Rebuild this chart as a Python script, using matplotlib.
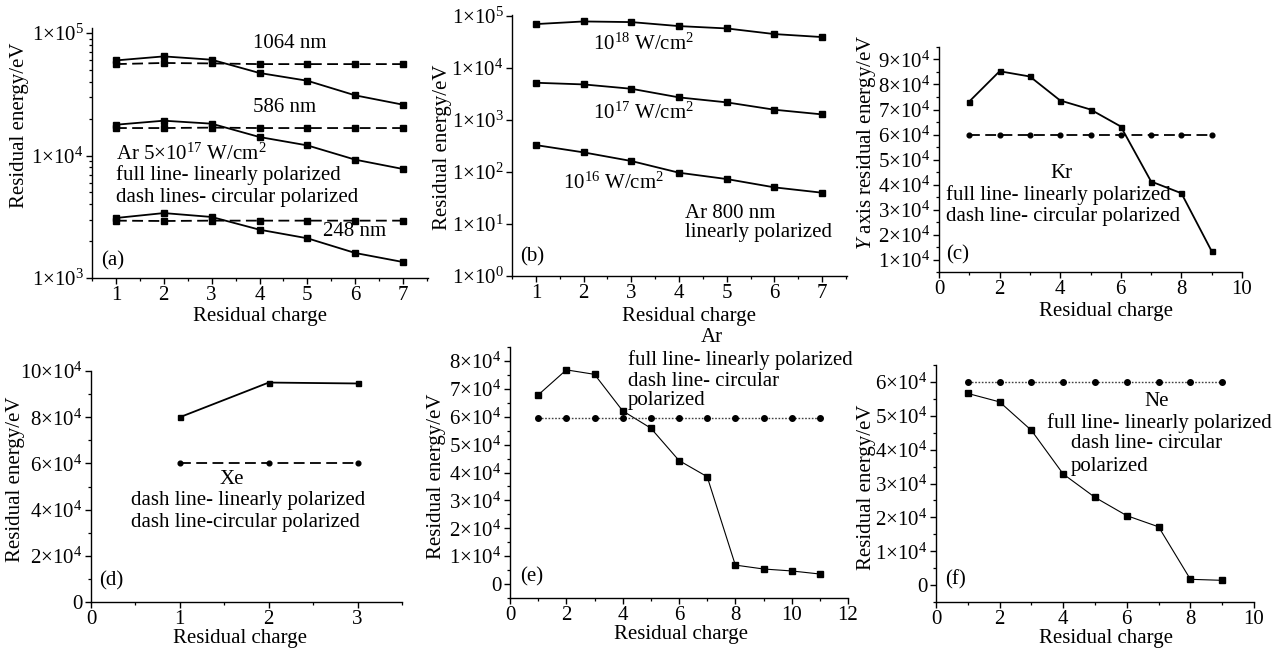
import matplotlib
matplotlib.use("Agg")
import matplotlib.pyplot as plt
from matplotlib.ticker import FixedLocator, FixedFormatter, LogLocator, NullFormatter, MultipleLocator

plt.rcParams['font.family'] = ['Liberation Serif', 'DejaVu Serif']
plt.rcParams['mathtext.fontset'] = 'custom'
plt.rcParams['mathtext.rm'] = 'Liberation Serif'
plt.rcParams['mathtext.it'] = 'Liberation Serif:italic'

# ---------------- data ----------------
# (a) Ar 5e17 W/cm2, three wavelengths
a_charge = [1, 2, 3, 4, 5, 6, 7]
a_1064_lin = [59800, 64500, 60600, 47200, 40800, 31000, 26000]
a_1064_circ = [55800, 57000, 56500, 55800, 55800, 55800, 55800]
a_586_lin = [17850, 19250, 18200, 14160, 12100, 9250, 7760]
a_586_circ = [16770, 16770, 16900, 16770, 16770, 16770, 16770]
a_248_lin = [3090, 3390, 3150, 2480, 2110, 1600, 1350]
a_248_circ = [2940, 2920, 2940, 2940, 2940, 2940, 2940]
a_yticks = [1e3, 1e4, 1e5]
a_ylabels = ['1×10$^{3}$', '1×10$^{4}$', '1×10$^{5}$']

# (b) Ar 800 nm, three intensities
b_charge = [1, 2, 3, 4, 5, 6, 7]
b_1e18 = [70200, 78900, 76700, 64200, 57900, 45100, 39500]
b_1e17 = [5220, 4850, 4000, 2730, 2190, 1580, 1285]
b_1e16 = [330, 239, 163, 97, 73.3, 50.7, 40.0]
b_yticks = [1e0, 1e1, 1e2, 1e3, 1e4, 1e5]
b_ylabels = ['1×10$^{0}$', '1×10$^{1}$', '1×10$^{2}$', '1×10$^{3}$', '1×10$^{4}$', '1×10$^{5}$']

# (c) Kr
c_charge = [1, 2, 3, 4, 5, 6, 7, 8, 9]
c_lin = [73200, 85300, 83200, 73600, 70000, 63200, 41200, 36500, 13300]
c_circ = [59800, 59800, 59800, 59800, 59800, 59800, 59800, 59800, 59800]
c_yticks = [1e4, 2e4, 3e4, 4e4, 5e4, 6e4, 7e4, 8e4, 9e4]
c_ylabels = ['%d×10$^{4}$' % k for k in range(1, 10)]

# (d) Xe
d_charge = [1, 2, 3]
d_lin = [80000, 95000, 94600]
d_circ = [60000, 60000, 60000]
d_yticks = [0, 2e4, 4e4, 6e4, 8e4, 10e4]
d_ylabels = ['0', '2×10$^{4}$', '4×10$^{4}$', '6×10$^{4}$', '8×10$^{4}$', '10×10$^{4}$']

# (e) Ar
e_charge = [1, 2, 3, 4, 5, 6, 7, 8, 9, 10, 11]
e_lin = [67800, 76800, 75200, 62100, 55900, 44300, 38500, 6800, 5400, 4700, 3600]
e_circ = [59700] * 11
e_yticks = [0, 1e4, 2e4, 3e4, 4e4, 5e4, 6e4, 7e4, 8e4]
e_ylabels = ['0'] + ['%d×10$^{4}$' % k for k in range(1, 9)]

# (f) Ne
f_charge = [1, 2, 3, 4, 5, 6, 7, 8, 9]
f_lin = [56600, 54100, 45700, 32800, 25900, 20500, 17200, 1700, 1400]
f_circ = [60000] * 9
f_yticks = [0, 1e4, 2e4, 3e4, 4e4, 5e4, 6e4]
f_ylabels = ['0'] + ['%d×10$^{4}$' % k for k in range(1, 7)]

# ---------------- figure ----------------
W, H = 1281, 653
fig = plt.figure(figsize=(W / 100, H / 100), dpi=100)

FS = 15
TFS = 15


def mkax(l, r, t, b):
    ax = fig.add_axes([l / W, 1 - b / H, (r - l) / W, (b - t) / H])
    ax.spines['top'].set_visible(False)
    ax.spines['right'].set_visible(False)
    for s in ('left', 'bottom'):
        ax.spines[s].set_linewidth(1.0)
    ax.tick_params(which='major', direction='out', length=4, width=1.0, labelsize=TFS, pad=2)
    ax.tick_params(which='minor', direction='out', length=2.2, width=0.9)
    ax.patch.set_alpha(0)
    return ax


def ftext(x, y, s, **kw):
    kw.setdefault('fontsize', FS)
    kw.setdefault('ha', 'left')
    kw.setdefault('va', 'center')
    fig.text(x / W, 1 - y / H, s, **kw)


def ylab(x, y, s):
    ftext(x, y, s, ha='center', rotation=90)


def xlab(x, y, s):
    ftext(x, y, s, ha='center')


def set_yt(ax, ticks, labels):
    ax.yaxis.set_major_locator(FixedLocator(ticks))
    ax.yaxis.set_major_formatter(FixedFormatter(labels))


lw = 1.3
ms = 4.2
dash = (6, 3)

# (a)
ax = mkax(92, 428, 28, 278)
ax.set_yscale('log')
ax.set_xlim(0.5, 7.52)
ax.set_ylim(1e3, 1.1e5)
for lin, circ in ((a_1064_lin, a_1064_circ), (a_586_lin, a_586_circ), (a_248_lin, a_248_circ)):
    ax.plot(a_charge, lin, '-', color='black', lw=lw, marker='s', ms=ms)
    ax.plot(a_charge, circ, color='black', lw=lw, ls=(0, dash), marker='s', ms=ms)
set_yt(ax, a_yticks, a_ylabels)
ax.yaxis.set_minor_locator(LogLocator(base=10, subs=range(2, 10)))
ax.yaxis.set_minor_formatter(NullFormatter())
ax.xaxis.set_major_locator(MultipleLocator(1))
ax.xaxis.set_minor_locator(MultipleLocator(0.5))
ftext(253, 43, '1064 nm')
ftext(253, 107, '586 nm')
ftext(116, 154, 'Ar 5×10$^{17}$ W/cm$^{2}$')
ftext(116, 175, 'full line- linearly polarized')
ftext(116, 197, 'dash lines- circular polarized')
ftext(323, 232, '248 nm')
ftext(101, 261, '(a)')
ylab(20, 125, 'Residual energy/eV')
xlab(260, 316, 'Residual charge')

# (b)
ax = mkax(512, 847, 15, 276)
ax.set_yscale('log')
ax.set_xlim(0.5, 7.52)
ax.set_ylim(1, 1.05e5)
for ser in (b_1e18, b_1e17, b_1e16):
    ax.plot(b_charge, ser, '-', color='black', lw=lw, marker='s', ms=ms)
set_yt(ax, b_yticks, b_ylabels)
ax.yaxis.set_minor_locator(FixedLocator([]))
ax.xaxis.set_major_locator(MultipleLocator(1))
ax.xaxis.set_minor_locator(MultipleLocator(0.5))
ftext(593, 44, '10$^{18}$ W/cm$^{2}$')
ftext(593, 113, '10$^{17}$ W/cm$^{2}$')
ftext(563, 183, '10$^{16}$ W/cm$^{2}$')
ftext(685, 213, 'Ar 800 nm')
ftext(685, 233, 'linearly polarized')
ftext(520, 257, '(b)')
ylab(443, 147, 'Residual energy/eV')
xlab(689, 316, 'Residual charge')

# (c)
ax = mkax(939, 1242, 47, 272)
ax.set_xlim(0, 10)
ax.set_ylim(5000, 95000)
ax.plot(c_charge, c_lin, '-', color='black', lw=lw, marker='s', ms=3.6)
ax.plot(c_charge, c_circ, color='black', lw=lw, ls=(0, dash), marker='o', ms=3.4)
set_yt(ax, c_yticks, c_ylabels)
ax.yaxis.set_minor_locator(MultipleLocator(5000))
ax.xaxis.set_major_locator(MultipleLocator(2))
ax.xaxis.set_minor_locator(MultipleLocator(1))
ftext(1061, 173, 'Kr', ha='center')
ftext(946, 195, 'full line- linearly polarized')
ftext(946, 216, 'dash line- circular polarized')
ftext(946, 255, '(c)')
ylab(867, 142, '$\\mathit{Y}$ axis residual energy/eV')
xlab(1106, 312, 'Residual charge')

# (d)
ax = mkax(91, 402, 371, 602)
ax.set_xlim(0, 3.5)
ax.set_ylim(0, 1e5)
ax.plot(d_charge, d_lin, '-', color='black', lw=lw, marker='s', ms=3.6)
ax.plot(d_charge, d_circ, color='black', lw=lw, ls=(0, dash), marker='o', ms=3.4)
set_yt(ax, d_yticks, d_ylabels)
ax.yaxis.set_minor_locator(MultipleLocator(1e4))
ax.xaxis.set_major_locator(MultipleLocator(1))
ax.xaxis.set_minor_locator(MultipleLocator(0.5))
ftext(232, 480, 'Xe', ha='center')
ftext(131, 501, 'dash line- linearly polarized')
ftext(131, 522, 'dash line-circular polarized')
ftext(99, 581, '(d)')
ylab(16, 479, 'Residual energy/eV')
xlab(240, 638, 'Residual charge')

# (e)
ax = mkax(510, 848, 347, 598)
ax.set_xlim(0, 12)
ax.set_ylim(-5000, 85000)
ax.plot(e_charge, e_lin, '-', color='black', lw=0.8, marker='s', ms=5)
ax.plot(e_charge, e_circ, color='0.25', lw=1.0, ls=(0, (1.2, 1.2)), marker='o', ms=4,
        markerfacecolor='black', markeredgecolor='black')
set_yt(ax, e_yticks, e_ylabels)
ax.yaxis.set_minor_locator(MultipleLocator(5000))
ax.xaxis.set_major_locator(MultipleLocator(2))
ax.xaxis.set_minor_locator(MultipleLocator(1))
ftext(712, 337, 'Ar', ha='center')
ftext(628, 360, 'full line- linearly polarized')
ftext(628, 381, 'dash line- circular')
ftext(628, 401, 'polarized')
ftext(520, 577, '(e)')
ylab(437, 476, 'Residual energy/eV')
xlab(681, 635, 'Residual charge')

# (f)
ax = mkax(936, 1254, 365, 602)
ax.set_xlim(0, 10)
ax.set_ylim(-5000, 65000)
ax.plot(f_charge, f_lin, '-', color='black', lw=0.8, marker='s', ms=5)
ax.plot(f_charge, f_circ, color='0.25', lw=1.0, ls=(0, (1.2, 1.2)), marker='o', ms=4,
        markerfacecolor='black', markeredgecolor='black')
set_yt(ax, f_yticks, f_ylabels)
ax.yaxis.set_minor_locator(MultipleLocator(5000))
ax.xaxis.set_major_locator(MultipleLocator(2))
ax.xaxis.set_minor_locator(MultipleLocator(1))
ftext(1157, 402, 'Ne', ha='center')
ftext(1047, 423, 'full line- linearly polarized')
ftext(1071, 444, 'dash line- circular')
ftext(1071, 466, 'polarized')
ftext(945, 580, '(f)')
ylab(867, 487, 'Residual energy/eV')
xlab(1106, 638, 'Residual charge')

fig.savefig('out.png', dpi=100)
